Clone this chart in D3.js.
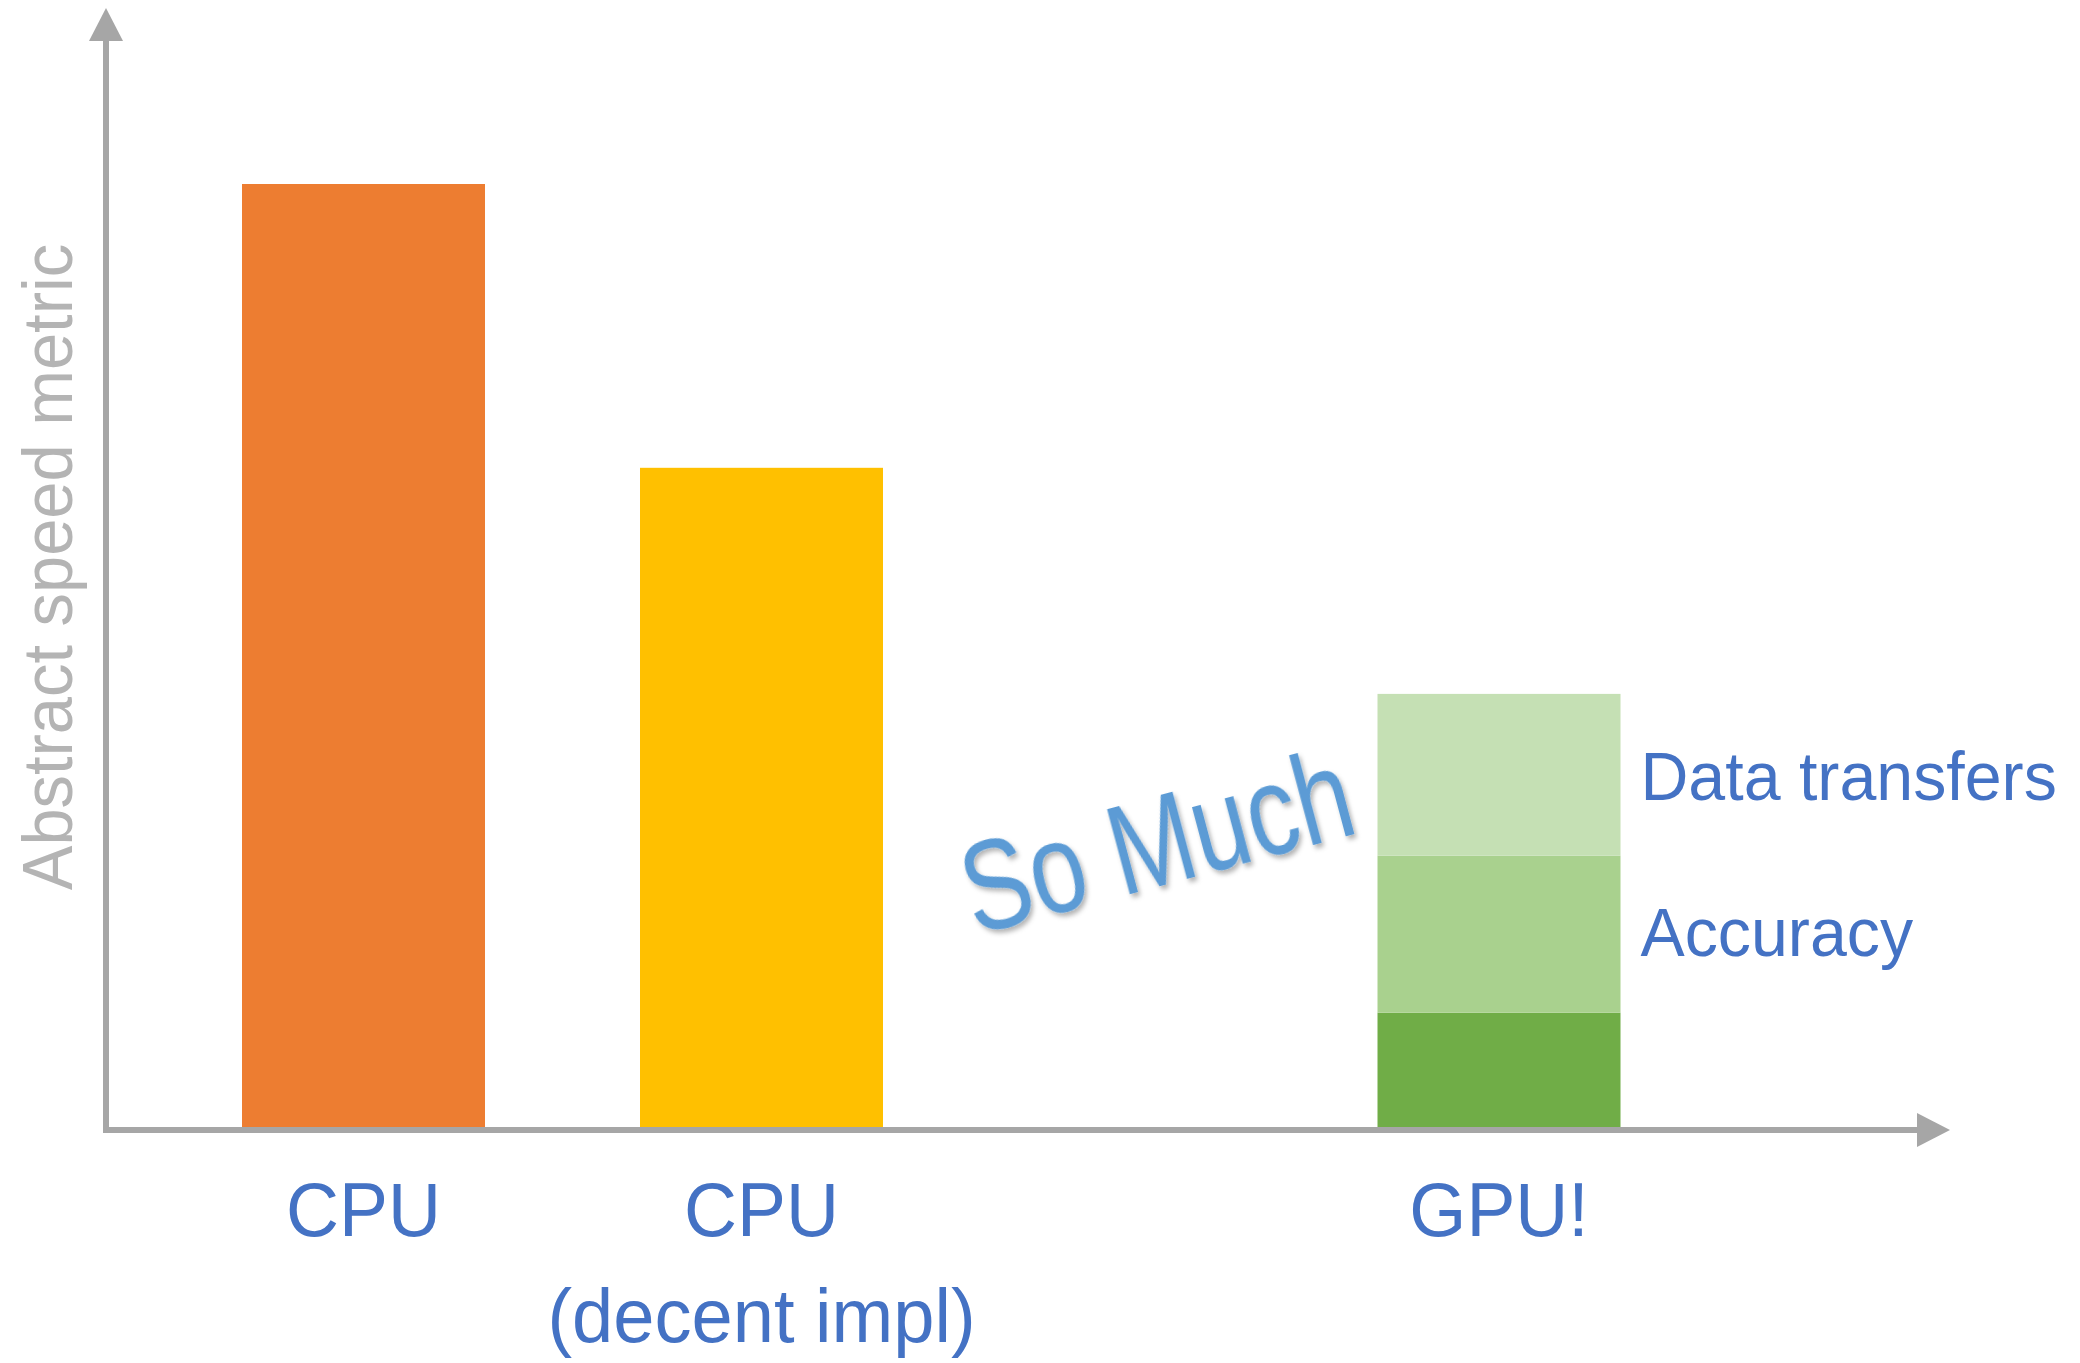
<!DOCTYPE html>
<html>
<head>
<meta charset="utf-8">
<script src="https://cdn.jsdelivr.net/npm/d3@7"></script>
<style>
  html, body { margin: 0; padding: 0; background: #ffffff; }
  svg { display: block; }
  text { font-family: "Liberation Sans", Arial, Helvetica, sans-serif; }
</style>
</head>
<body>
<svg id="chart" width="2080" height="1363"></svg>
<script>
// ---- data ----
const categories = ["CPU", "CPU", "GPU!"];
const subLabels = ["", "(decent impl)", ""];
const singleValues = [100, 70, null];          // plain bars
const gpuSegmentNames = ["Base", "Accuracy", "Data transfers"];
const gpuSegmentValues = [12.4, 16.6, 17.1];     // stacked GPU bar
const yAxisTitle = "Abstract speed metric";
const annotation = "So Much";

// ---- styles ----
const barColors = ["#ED7D31", "#FFC000"];
const gpuColors = ["#70AD47", "#A9D18E", "#C5E0B4"];
const axisColor = "#A6A6A6";
const labelColor = "#4472C4";

const svg = d3.select("#chart");

const x0 = 106, y0 = 1130;
const y = d3.scaleLinear().domain([0, 100]).range([y0, 184]);
const xCenter = d3.scaleOrdinal().domain([0, 1, 2]).range([363.5, 761.5, 1499]);
const barW = 243;

// shadow filter for annotation
const defs = svg.append("defs");
const f = defs.append("filter").attr("id", "shadow")
  .attr("x", "-10%").attr("y", "-10%").attr("width", "130%").attr("height", "140%");
f.append("feDropShadow").attr("dx", 2).attr("dy", 4).attr("stdDeviation", 2.5)
  .attr("flood-color", "#000").attr("flood-opacity", 0.3);

// plain bars
singleValues.forEach((v, i) => {
  if (v == null) return;
  svg.append("rect")
    .attr("x", xCenter(i) - barW / 2)
    .attr("y", y(v))
    .attr("width", barW)
    .attr("height", y(0) - y(v))
    .attr("fill", barColors[i]);
});

// stacked GPU bar
let acc = 0;
const stack = gpuSegmentValues.map((v, j) => {
  const s = { name: gpuSegmentNames[j], lo: acc, hi: acc + v, color: gpuColors[j] };
  acc += v;
  return s;
});
svg.selectAll("rect.gpu").data(stack).enter().append("rect")
  .attr("class", "gpu")
  .attr("x", xCenter(2) - barW / 2)
  .attr("y", d => y(d.hi))
  .attr("width", barW)
  .attr("height", d => y(d.lo) - y(d.hi))
  .attr("fill", d => d.color);

// segment labels
const segLabelBaselines = { "Data transfers": 800, "Accuracy": 956 };
stack.filter(d => d.name !== "Base").forEach(d => {
  svg.append("text")
    .attr("transform", `translate(${xCenter(2) + barW / 2 + 20},${segLabelBaselines[d.name]}) scale(0.975,1)`)
    .attr("font-size", 68)
    .attr("fill", labelColor)
    .text(d.name);
});

// axes
svg.append("line").attr("x1", x0 - 3).attr("y1", y0).attr("x2", 1918).attr("y2", y0)
  .attr("stroke", axisColor).attr("stroke-width", 6);
svg.append("path").attr("d", `M1917,${y0 - 17} L1950,${y0} L1917,${y0 + 17} Z`).attr("fill", axisColor);
svg.append("line").attr("x1", x0).attr("y1", y0 + 3).attr("x2", x0).attr("y2", 40)
  .attr("stroke", axisColor).attr("stroke-width", 6);
svg.append("path").attr("d", `M${x0 - 17},41 L${x0},8 L${x0 + 17},41 Z`).attr("fill", axisColor);

// category labels
categories.forEach((c, i) => {
  svg.append("text")
    .attr("transform", `translate(${xCenter(i)},1236) scale(0.965,1)`)
    .attr("text-anchor", "middle")
    .attr("font-size", 76)
    .attr("fill", labelColor)
    .text(c);
  if (subLabels[i]) {
    svg.append("text")
      .attr("transform", `translate(${xCenter(i)},1342) scale(0.975,1)`)
      .attr("text-anchor", "middle")
      .attr("font-size", 76)
      .attr("fill", labelColor)
      .text(subLabels[i]);
  }
});

// y axis title
svg.append("text")
  .attr("transform", "translate(72,567) rotate(-90) scale(0.955,1)")
  .attr("text-anchor", "middle")
  .attr("font-size", 70)
  .attr("fill", "#B4B4B4")
  .text(yAxisTitle);

// annotation
svg.append("text")
  .attr("transform", "translate(1168,884) rotate(-15) scale(0.79,1)")
  .attr("text-anchor", "middle")
  .attr("font-size", 128)
  .attr("fill", "#5B9BD5")
  .attr("filter", "url(#shadow)")
  .text(annotation);
</script>
</body>
</html>
